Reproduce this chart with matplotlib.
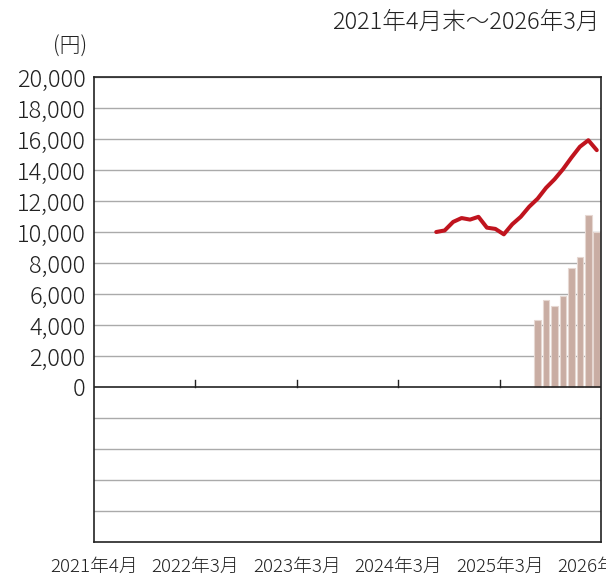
import matplotlib
matplotlib.use('Agg')
import matplotlib.pyplot as plt

plt.rcParams['font.family'] = ['Noto Sans CJK JP', 'DejaVu Sans']

# 月インデックス（2021年4月 = 0）
line_months = list(range(40, 60))
line_values = [10000, 10100, 10650, 10900, 10800, 10980, 10280, 10200, 9850, 10500,
               10980, 11630, 12150, 12850, 13400, 14050, 14800, 15500, 15920, 15280]
bar_months = list(range(52, 60))
bar_values = [4300, 5600, 5200, 5850, 7650, 8400, 11100, 10000]

tick_pos = [0, 12, 24, 36, 48, 60]
tick_labels = ['2021年4月', '2022年3月', '2023年3月', '2024年3月', '2025年3月', '2026年3月']
y_ticks = list(range(0, 20001, 2000))

W, H = 606, 578
fig = plt.figure(figsize=(W / 100, H / 100), dpi=100)
ax = fig.add_axes([94 / W, (H - 542) / H, (601 - 94) / W, (542 - 77) / H])

ax.set_xlim(0, 60)
ax.set_ylim(-10000, 20000)

# グリッド
for y in range(-8000, 20001, 2000):
    if y != 0:
        ax.axhline(y, color='#aaaaaa', lw=1.0, zorder=1)

ax.bar([m + 0.5 for m in bar_months], bar_values, width=0.78,
       color='#c9ada3', edgecolor='#e6d8d2', linewidth=0.8, zorder=2)
ax.plot([m + 0.5 for m in line_months], line_values, color='#c0141e',
        lw=2.9, solid_joinstyle='round', solid_capstyle='round', zorder=3)

ax.axhline(0, color='#222222', lw=1.2, zorder=4)
for m in tick_pos[1:-1]:
    ax.plot([m, m], [0, 450], color='#222222', lw=1.0, zorder=4)

ax.set_yticks(y_ticks)
ax.set_yticklabels([f'{v:,}' for v in y_ticks], fontsize=17, color='#222222',
                   fontweight='light')
ax.tick_params(axis='y', length=0, pad=6)
ax.set_xticks([])
for m, lab in zip(tick_pos, tick_labels):
    ax.text(m, -11600, lab, ha='center', va='center', fontsize=13.5, color='#222222',
            fontweight='light', clip_on=False)

for s in ax.spines.values():
    s.set_color('#222222')
    s.set_linewidth(1.2)

fig.text(600 / W, 1 - 22 / H, '2021年4月末～2026年3月', ha='right', va='center',
         fontsize=17, color='#222222', fontweight='light')
fig.text(70 / W, 1 - 47 / H, '(円)', ha='center', va='center', fontsize=15,
         color='#222222', fontweight='light')

fig.savefig('out.png', dpi=100)
